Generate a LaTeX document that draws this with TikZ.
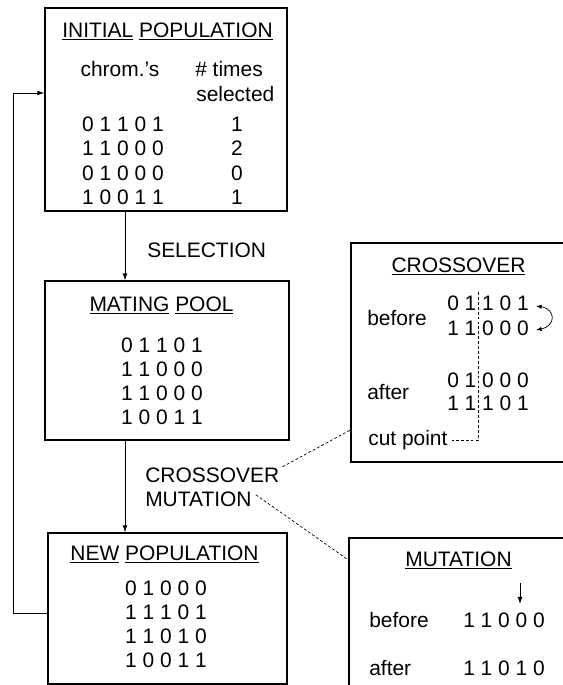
\documentclass[tikz,border=0pt]{standalone}
\usepackage{fontspec}
\setmainfont{Liberation Sans}
\usetikzlibrary{arrows.meta, positioning, calc, fit}

\tikzset{
  box/.style={draw, line width=0.9pt, inner sep=0pt},
  txt/.style={font=\fontsize{14.9}{17.5}\selectfont, inner sep=0pt, anchor=base},
  txtl/.style={txt, anchor=base west},
  flow/.style={line width=0.6pt, -{Latex[length=5pt, width=3.5pt]}},
  link/.style={line width=0.5pt, dash pattern=on 2pt off 1.5pt},
}

\begin{document}
\begin{tikzpicture}[x=0.025cm, y=-0.025cm]
\useasboundingbox (0,0) rectangle (563,685);

% boxes
\node[box, fit={(45,8) (287,211)}] (init) {};
\node[box, fit={(45,281) (289,440)}] (pool) {};
\node[box, fit={(48,533) (287,684)}] (newpop) {};
\node[box, fit={(351,243) (620,462)}] (cross) {};
\node[box, fit={(349,538) (620,720)}] (mut) {};

% initial population
\node[txt] (initT) at (167.5,37) {\underline{INITIAL} \underline{POPULATION}};
\node[txt] (chrom) at (120,76) {chrom.'s};
\node[txtl] (times) at (195,76) {\# times};
\node[txtl] (sel) at (196,101) {selected};
\node[txt] (i1) at (123,131) {0 1 1 0 1};
\node[txt] (i2) at (123,155.5) {1 1 0 0 0};
\node[txt] (i3) at (123,180) {0 1 0 0 0};
\node[txt] (i4) at (123,204.5) {1 0 0 1 1};
\node[txt] (n1) at (237,131) {1};
\node[txt] (n2) at (237,155.5) {2};
\node[txt] (n3) at (237,180) {0};
\node[txt] (n4) at (237,204.5) {1};

% mating pool
\node[txt] (poolT) at (161.5,311) {\underline{MATING} \underline{POOL}};
\node[txt] (p1) at (162,352) {0 1 1 0 1};
\node[txt] (p2) at (162,376) {1 1 0 0 0};
\node[txt] (p3) at (162,400) {1 1 0 0 0};
\node[txt] (p4) at (162,424) {1 0 0 1 1};

% new population
\node[txt] (newT) at (164.5,560) {\underline{NEW} \underline{POPULATION}};
\node[txt] (q1) at (166,595) {0 1 0 0 0};
\node[txt] (q2) at (166,619) {1 1 1 0 1};
\node[txt] (q3) at (166,643) {1 1 0 1 0};
\node[txt] (q4) at (166,667) {1 0 0 1 1};

% flow between the boxes
\coordinate (col) at (125,0);
\node[txtl] (selT) at (147,257) {SELECTION};
\draw[flow] (init.south -| col) -- (pool.north -| col);
\node[txtl] (xoT) at (145,482) {CROSSOVER};
\node[txtl] (muT) at (145,506) {MUTATION};
\draw[flow] (pool.south -| col) -- (newpop.north -| col);

% loop back
\coordinate (bk) at (13,0);
\coordinate (bkout) at (0,613);
\coordinate (bkin) at (0,93);
\draw[line width=0.6pt] (newpop.west |- bkout) -- (bk |- bkout) -- (bk |- bkin);
\draw[flow] (bk |- bkin) -- (init.west |- bkin);

% crossover box
\node[txt] (crossT) at (458.5,272) {\underline{CROSSOVER}};
\node[txtl] (bef) at (367,325) {before};
\node[txtl] (c1) at (447,310) {0 1 1 0 1};
\node[txtl] (c2) at (447,335) {1 1 0 0 0};
\node[txtl] (aft) at (367,399) {after};
\node[txtl] (c3) at (447,387) {0 1 0 0 0};
\node[txtl] (c4) at (447,410) {1 1 1 0 1};
\node[txtl] (cut) at (368,445) {cut point};
\coordinate (cutx) at (478,292);
\draw[link] (cutx) -- (cutx |- 0,440) -- ($(cut.east |- 0,440)+(4,0)$);
\coordinate (swA) at (536,306);
\coordinate (swB) at (536,330);
\draw[line width=0.5pt, {Latex[length=4pt, width=3pt]}-{Latex[length=4pt, width=3pt]}]
  (swA) .. controls (556,309) and (556,326) .. (swB);

% mutation box
\node[txt] (mutT) at (458.5,566) {\underline{MUTATION}};
\node[txtl] (mbef) at (369,627) {before};
\node[txtl] (m1) at (463,627) {1 1 0 0 0};
\node[txtl] (maft) at (369,675) {after};
\node[txtl] (m2) at (463,675) {1 1 0 1 0};
\coordinate (flip) at (520,583);
\draw[flow] (flip) -- (flip |- 0,604);

% dotted links to the detail boxes
\draw[link] ($(xoT.east)+(3,-8)$) -- (cross.west |- 0,430);
\draw[link] ($(muT.east)+(4,-4)$) -- (mut.west |- 0,560);
\end{tikzpicture}
\end{document}
